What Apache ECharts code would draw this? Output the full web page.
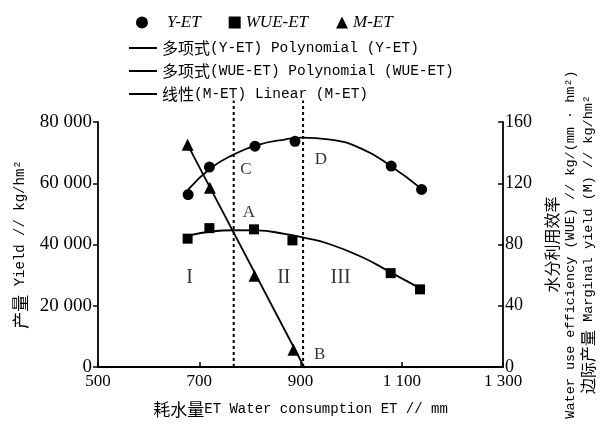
<!DOCTYPE html>
<html>
<head>
<meta charset="utf-8">
<title>耗水量与产量、水分利用效率、边际产量</title>
<script src="https://cdn.jsdelivr.net/npm/echarts@6/dist/echarts.min.js"></script>
</head>
<body style="margin:0;background:#fff">
<div id="container" style="width:605px;height:425px"></div>
<script>
// 实测点
var etY = [678, 720, 810, 889, 1079, 1139];
var yieldY = [56300, 65300, 72100, 73700, 65600, 58000];
var etWUE = [677, 720, 808, 884, 1078, 1136];
var wueVal = [83.8, 90.7, 89.9, 82.7, 61.3, 50.7];
var etM = [677, 721, 809, 886];
var mVal = [145.2, 117.1, 59.6, 11.2];

// 趋势线
var fitX = [678, 723, 768, 813, 871, 904, 955, 1020, 1078, 1140];
var fitYield = [57900, 64970, 69350, 72390, 74350, 74900, 74350, 71310, 65620, 58010];
var fitWUE = [85.8, 88.5, 89.3, 89.2, 86.8, 84.6, 80.5, 72.0, 61.8, 50.7];
var linX = [681, 907];
var linM = [142.6, 0];

// 分区虚线
var dashX = [768, 905];
var dashY = [0, 87000];

// 标注
var markNames = ['A', 'B', 'C', 'D', 'I', 'II', 'III'];
var markX = [798, 938, 792, 940, 681, 867, 979];
var markY = [50600, 4000, 64600, 67650, 29250, 29250, 29250];
var markSize = [17, 17, 17, 17, 20, 20, 20];

// 刻度
var xTickLabels = ['500', '700', '900', '1 100', '1 300'];
var yLeftLabels = ['0', '20 000', '40 000', '60 000', '80 000'];
var yRightLabels = ['0', '40', '80', '120', '160'];

var fitNames = ['多项式(Y-ET) Polynomial (Y-ET)', '多项式(WUE-ET) Polynomial (WUE-ET)', '线性(M-ET) Linear (M-ET)'];

var MONO = "'Liberation Mono', 'Noto Sans CJK SC', monospace";
var SERIF = "'Liberation Serif', 'Noto Sans CJK SC', serif";
var CJK = "'Noto Sans CJK SC', sans-serif";

function zip(xs, ys) {
    return xs.map(function (x, i) { return [x, ys[i]]; });
}
function cjkRich(s) {
    return s.replace(/([\u3400-\u9fff]+)/g, '{c|$1}');
}

var dom = document.getElementById('container');
var myChart = echarts.init(dom, null, {renderer: 'canvas'});

var black = {color: '#000', opacity: 1};

var series = [
    {
        name: 'Y-ET', type: 'scatter', symbol: 'circle', symbolSize: 11,
        data: zip(etY, yieldY), itemStyle: black, z: 5
    },
    {
        name: 'WUE-ET', type: 'scatter', symbol: 'rect', symbolSize: 10, yAxisIndex: 1,
        data: zip(etWUE, wueVal), itemStyle: black, z: 5
    },
    {
        name: 'M-ET', type: 'scatter', symbol: 'triangle', symbolSize: 12, yAxisIndex: 1,
        data: zip(etM, mVal), itemStyle: black, z: 5
    },
    {
        name: fitNames[0], type: 'line', smooth: 0.5, showSymbol: false,
        data: zip(fitX, fitYield), lineStyle: {color: '#000', width: 1.8}, itemStyle: black
    },
    {
        name: fitNames[1], type: 'line', smooth: 0.5, showSymbol: false, yAxisIndex: 1,
        data: zip(fitX, fitWUE), lineStyle: {color: '#000', width: 1.8}, itemStyle: black
    },
    {
        name: fitNames[2], type: 'line', showSymbol: false, yAxisIndex: 1,
        data: zip(linX, linM), lineStyle: {color: '#000', width: 1.8}, itemStyle: black
    }
];

dashX.forEach(function (x) {
    series.push({
        type: 'line', showSymbol: false, clip: false, silent: true,
        data: dashY.map(function (y) { return [x, y]; }),
        lineStyle: {color: '#000', width: 2, type: [3, 3]}
    });
});

series.push({
    type: 'scatter', symbolSize: 0, silent: true,
    data: markNames.map(function (n, i) {
        return {
            name: n, value: [markX[i], markY[i]],
            label: {fontSize: markSize[i]}
        };
    }),
    label: {
        show: true, position: 'inside', formatter: '{b}',
        fontFamily: SERIF, color: '#000'
    }
});

var option = {
    animation: false,
    grid: {left: 98, right: 92, top: 122, bottom: 58},
    legend: [
        {
            data: [
                {name: 'Y-ET', textStyle: {padding: [0, 0, 0, 14]}},
                {name: 'WUE-ET'},
                {name: 'M-ET'}
            ],
            left: 131, top: 9, itemWidth: 12, itemHeight: 12, itemGap: 28,
            selectedMode: false,
            textStyle: {fontFamily: SERIF, fontStyle: 'italic', fontSize: 17, color: '#000'}
        },
        {
            data: fitNames, orient: 'vertical', left: 124, top: 34,
            icon: 'rect', itemWidth: 28, itemHeight: 2, itemGap: 5,
            selectedMode: false,
            itemStyle: {color: '#000', opacity: 1},
            formatter: function (n) { return cjkRich(n); },
            textStyle: {
                fontFamily: MONO, fontSize: 14.5, color: '#000', lineHeight: 18,
                rich: {c: {fontFamily: CJK, fontSize: 16, color: '#000'}}
            }
        }
    ],
    xAxis: {
        type: 'value', min: 500, max: 1300, interval: 200,
        name: cjkRich('耗水量ET Water consumption ET // mm'),
        nameLocation: 'middle', nameGap: 34,
        nameTextStyle: {
            fontFamily: MONO, fontSize: 14, color: '#000',
            rich: {c: {fontFamily: CJK, fontSize: 17, color: '#000'}}
        },
        axisLine: {lineStyle: {color: '#000', width: 1.8}},
        axisTick: {inside: true, length: 5, lineStyle: {color: '#000', width: 1.5}},
        axisLabel: {
            margin: 6, fontFamily: SERIF, fontSize: 17, color: '#000',
            formatter: function (v) { return xTickLabels[(v - 500) / 200]; }
        },
        splitLine: {show: false}
    },
    yAxis: [
        {
            type: 'value', min: 0, max: 80000, interval: 20000,
            name: cjkRich('产量 Yield // kg/hm²'),
            nameLocation: 'middle', nameRotate: 90, nameGap: 58,
            nameTextStyle: {
                fontFamily: MONO, fontSize: 14, color: '#000',
                rich: {c: {fontFamily: CJK, fontSize: 17, color: '#000'}}
            },
            axisLine: {show: true, lineStyle: {color: '#000', width: 1.8}},
            axisTick: {show: true, length: 5, lineStyle: {color: '#000', width: 1.5}},
            axisLabel: {
                margin: 6, fontFamily: SERIF, fontSize: 19, color: '#000',
                formatter: function (v) { return yLeftLabels[v / 20000]; }
            },
            splitLine: {show: false}
        },
        {
            type: 'value', min: 0, max: 160, interval: 40, position: 'right',
            name: cjkRich('水分利用效率') + '\nWater use efficiency (WUE) // kg/(mm · hm²)\n' +
                cjkRich('边际产量 Marginal yield (M) // kg/hm²'),
            nameLocation: 'middle', nameRotate: 90, nameGap: 32,
            nameTextStyle: {
                fontFamily: MONO, fontSize: 13.5, color: '#000', lineHeight: 18,
                rich: {c: {fontFamily: CJK, fontSize: 16, color: '#000', lineHeight: 18}}
            },
            axisLine: {show: true, lineStyle: {color: '#000', width: 1.8}},
            axisTick: {show: true, inside: true, length: 5, lineStyle: {color: '#000', width: 1.5}},
            axisLabel: {
                margin: 2, fontFamily: SERIF, fontSize: 18, color: '#000',
                formatter: function (v) { return yRightLabels[v / 40]; }
            },
            splitLine: {show: false}
        }
    ],
    series: series
};

myChart.setOption(option);
window.addEventListener('resize', myChart.resize);
</script>
</body>
</html>
